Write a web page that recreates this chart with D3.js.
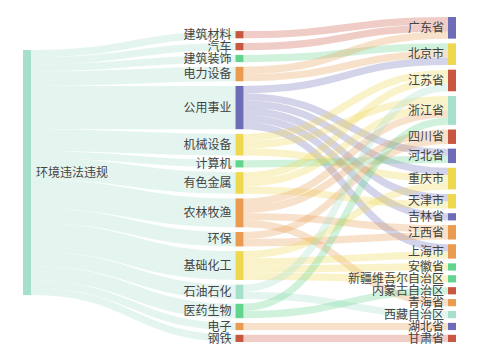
<html>
<script src='https://d3js.org/d3.v7.min.js'></script>
<style>
body {margin:0; background:#fff;}
text {font-family:'Noto Sans CJK SC','Noto Sans',sans-serif; font-size:12px; fill:#444;}
</style>
<body>
<svg width=480 height=360></svg>
<script>
// data
var rootName = "环境违法违规";
var industries = ["建筑材料","汽车","建筑装饰","电力设备","公用事业","机械设备","计算机","有色金属",
  "农林牧渔","环保","基础化工","石油石化","医药生物","电子","钢铁"];
var provinces = ["广东省","北京市","江苏省","浙江省","四川省","河北省","重庆市","天津市","吉林省",
  "江西省","上海市","安徽省","新疆维吾尔自治区","内蒙古自治区","青海省","西藏自治区","湖北省","甘肃省"];
var flows = [
  ["建筑材料","广东省",1],
  ["汽车","广东省",1],
  ["建筑装饰","北京市",1],
  ["电力设备","广东省",1],["电力设备","北京市",1],
  ["公用事业","北京市",1],["公用事业","河北省",1],["公用事业","重庆市",1],["公用事业","天津市",1],["公用事业","吉林省",1],["公用事业","上海市",1],
  ["机械设备","江苏省",1],["机械设备","浙江省",1],["机械设备","重庆市",1],
  ["计算机","河北省",1],
  ["有色金属","江苏省",1],["有色金属","浙江省",1],["有色金属","天津市",1],
  ["农林牧渔","浙江省",1],["农林牧渔","四川省",1],["农林牧渔","江西省",1],["农林牧渔","青海省",1],
  ["环保","四川省",1],["环保","江西省",1],
  ["基础化工","重庆市",1],["基础化工","上海市",1],["基础化工","安徽省",1],["基础化工","新疆维吾尔自治区",1],
  ["石油石化","江苏省",1],["石油石化","西藏自治区",1],
  ["医药生物","浙江省",1],["医药生物","内蒙古自治区",1],
  ["电子","湖北省",1],
  ["钢铁","甘肃省",1]
];

// colours
var pal = {purple:"#6d6cb6", yellow:"#eed84f", red:"#c9563f", teal:"#a6dfca", green:"#62d48e", orange:"#e99c4f"};
var nodeColor = {
  "环境违法违规":"teal",
  "建筑材料":"red","汽车":"red","建筑装饰":"green","电力设备":"orange","公用事业":"purple","机械设备":"yellow",
  "计算机":"green","有色金属":"yellow","农林牧渔":"orange","环保":"orange","基础化工":"yellow","石油石化":"teal",
  "医药生物":"green","电子":"orange","钢铁":"red",
  "广东省":"purple","北京市":"yellow","江苏省":"red","浙江省":"teal","四川省":"red","河北省":"purple","重庆市":"yellow",
  "天津市":"yellow","吉林省":"purple","江西省":"orange","上海市":"orange","安徽省":"green","新疆维吾尔自治区":"green",
  "内蒙古自治区":"red","青海省":"orange","西藏自治区":"teal","湖北省":"purple","甘肃省":"red"
};

function draw() {
  // build graph
  var columns = [[rootName], industries, provinces];
  var nodes = {};
  columns.forEach(function(col, ci) {
    col.forEach(function(n) { nodes[n] = {name:n, col:ci, out:[], inn:[], value:0}; });
  });
  var links = [];
  industries.forEach(function(ind) {
    var v = d3.sum(flows.filter(function(f){ return f[0]==ind; }), function(f){ return f[2]; });
    links.push({source:nodes[rootName], target:nodes[ind], value:v});
  });
  flows.forEach(function(f) { links.push({source:nodes[f[0]], target:nodes[f[1]], value:f[2]}); });
  links.forEach(function(l) { l.source.out.push(l); l.target.inn.push(l); });
  var nodeList = Object.keys(nodes).map(function(k){ return nodes[k]; });
  nodeList.forEach(function(n) {
    n.value = Math.max(d3.sum(n.out, function(l){return l.value;}), d3.sum(n.inn, function(l){return l.value;}));
  });

  // layout
  var yTop = 17, yBottom = 342, gap = 4.7, nodeW = 8;
  var total = d3.sum(provinces, function(p){ return nodes[p].value; });
  var ky = (yBottom - yTop - (provinces.length - 1) * gap) / total;
  var h = d3.scaleLinear().domain([0, total]).range([0, total * ky]);
  var x = d3.scalePoint().domain([0, 1, 2]).range([23, 448]);

  function stack(col, y0) {
    var y = y0;
    col.forEach(function(n) {
      var d = nodes[n];
      d.x0 = x(d.col); d.x1 = d.x0 + nodeW;
      d.y0 = y; d.y1 = y + h(d.value);
      y = d.y1 + gap;
    });
  }
  stack(provinces, yTop);
  var indH = d3.sum(industries, function(n){ return h(nodes[n].value); }) + (industries.length - 1) * gap;
  stack(industries, yBottom - indH);
  stack([rootName], 50);

  nodeList.forEach(function(n) {
    n.out.sort(function(a,b){ return a.target.y0 - b.target.y0; });
    n.inn.sort(function(a,b){ return a.source.y0 - b.source.y0; });
    var y = n.y0;
    n.out.forEach(function(l){ l.sy = y + h(l.value)/2; y += h(l.value); });
    y = n.y0;
    n.inn.forEach(function(l){ l.ty = y + h(l.value)/2; y += h(l.value); });
  });

  var svg = d3.select("svg");
  var linkPath = d3.linkHorizontal()
    .source(function(l){ return [l.source.x1, l.sy]; })
    .target(function(l){ return [l.target.x0, l.ty]; });

  svg.append("g").selectAll("path").data(links).enter().append("path")
    .attr("d", linkPath)
    .attr("fill", "none")
    .attr("stroke", function(l){ return pal[nodeColor[l.source.name]]; })
    .attr("stroke-opacity", 0.3)
    .attr("stroke-width", function(l){ return Math.max(1, h(l.value)); });

  svg.append("g").selectAll("rect").data(nodeList).enter().append("rect")
    .attr("x", function(d){ return d.x0; })
    .attr("y", function(d){ return d.y0; })
    .attr("width", nodeW)
    .attr("height", function(d){ return d.y1 - d.y0; })
    .attr("fill", function(d){ return pal[nodeColor[d.name]]; });

  svg.append("g").selectAll("text").data(nodeList).enter().append("text")
    .attr("x", function(d){ return d.col == 0 ? d.x1 + 5 : d.x0 - 4; })
    .attr("y", function(d){ return (d.y0 + d.y1) / 2; })
    .attr("dy", "0.35em")
    .attr("text-anchor", function(d){ return d.col == 0 ? "start" : "end"; })
    .text(function(d){ return d.name; });
}
draw();
</script>
</body>
</html>
